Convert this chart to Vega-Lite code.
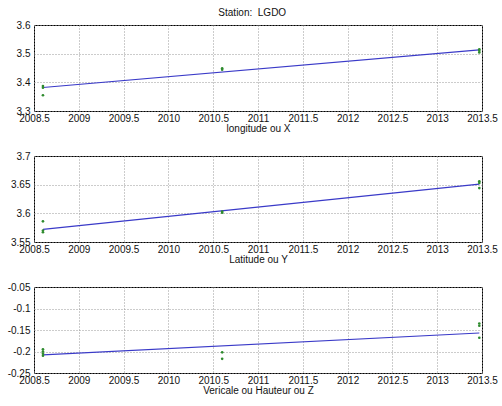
{
  "$schema": "https://vega.github.io/schema/vega-lite/v6.json",
  "padding": {"left": 6, "top": 7, "right": 12, "bottom": 2},
  "background": "white",
  "title": {"text": "Station:\u00a0 LGDO", "fontSize": 10, "fontWeight": "normal", "font": "Liberation Sans", "color": "#111", "anchor": "middle", "offset": 2},
  "config": {
    "font": "Liberation Sans",
    "view": {"stroke": "#000", "strokeWidth": 1},
    "axis": {
      "labelFont": "Liberation Sans", "labelFontSize": 10, "labelColor": "#111",
      "titleFont": "Liberation Sans", "titleFontSize": 10, "titleFontWeight": "normal", "titleColor": "#111",
      "domain": false, "ticks": false, "labelOverlap": false, "labelFlush": false,
      "gridColor": "#999", "gridDash": [1, 2], "gridWidth": 1, "gridOpacity": 1
    }
  },
  "datasets": {
    "pts": [
      {"panel": "X", "kind": "obs", "t": 2008.6, "v": 3.387},
      {"panel": "X", "kind": "obs", "t": 2008.6, "v": 3.381},
      {"panel": "X", "kind": "obs", "t": 2008.6, "v": 3.355},
      {"panel": "X", "kind": "obs", "t": 2010.6, "v": 3.449},
      {"panel": "X", "kind": "obs", "t": 2010.6, "v": 3.444},
      {"panel": "X", "kind": "obs", "t": 2013.47, "v": 3.515},
      {"panel": "X", "kind": "obs", "t": 2013.47, "v": 3.510},
      {"panel": "X", "kind": "obs", "t": 2013.47, "v": 3.504},
      {"panel": "Y", "kind": "obs", "t": 2008.6, "v": 3.586},
      {"panel": "Y", "kind": "obs", "t": 2008.6, "v": 3.570},
      {"panel": "Y", "kind": "obs", "t": 2008.6, "v": 3.567},
      {"panel": "Y", "kind": "obs", "t": 2010.6, "v": 3.603},
      {"panel": "Y", "kind": "obs", "t": 2010.6, "v": 3.601},
      {"panel": "Y", "kind": "obs", "t": 2013.47, "v": 3.656},
      {"panel": "Y", "kind": "obs", "t": 2013.47, "v": 3.653},
      {"panel": "Y", "kind": "obs", "t": 2013.47, "v": 3.644},
      {"panel": "Z", "kind": "obs", "t": 2008.6, "v": -0.195},
      {"panel": "Z", "kind": "obs", "t": 2008.6, "v": -0.200},
      {"panel": "Z", "kind": "obs", "t": 2008.6, "v": -0.205},
      {"panel": "Z", "kind": "obs", "t": 2008.6, "v": -0.210},
      {"panel": "Z", "kind": "obs", "t": 2010.6, "v": -0.202},
      {"panel": "Z", "kind": "obs", "t": 2010.6, "v": -0.217},
      {"panel": "Z", "kind": "obs", "t": 2013.47, "v": -0.135},
      {"panel": "Z", "kind": "obs", "t": 2013.47, "v": -0.140},
      {"panel": "Z", "kind": "obs", "t": 2013.47, "v": -0.168},
      {"panel": "X", "kind": "fit", "t": 2008.6, "v": 3.382},
      {"panel": "X", "kind": "fit", "t": 2013.47, "v": 3.513},
      {"panel": "Y", "kind": "fit", "t": 2008.6, "v": 3.572},
      {"panel": "Y", "kind": "fit", "t": 2013.47, "v": 3.651},
      {"panel": "Z", "kind": "fit", "t": 2008.6, "v": -0.208},
      {"panel": "Z", "kind": "fit", "t": 2013.47, "v": -0.157}
    ]
  },
  "data": {"name": "pts"},
  "spacing": 16,
  "vconcat": [
    {
      "width": 448, "height": 86,
      "transform": [{"filter": "datum.panel === 'X'"}],
      "encoding": {
        "x": {"field": "t", "type": "quantitative", "scale": {"domain": [2008.5, 2013.5], "nice": false, "zero": false},
              "axis": {"title": "longitude ou X", "values": [2008.5, 2009, 2009.5, 2010, 2010.5, 2011, 2011.5, 2012, 2012.5, 2013, 2013.5], "labelExpr": "'' + datum.value", "labelPadding": 2, "titlePadding": 0}},
        "y": {"field": "v", "type": "quantitative", "scale": {"domain": [3.3, 3.6], "nice": false, "zero": false},
              "axis": {"title": null, "values": [3.3, 3.4, 3.5, 3.6], "labelExpr": "'' + datum.value", "labelPadding": 4}}
      },
      "layer": [
        {"transform": [{"filter": "datum.kind === 'fit'"}], "mark": {"type": "line", "color": "#3a3ac8", "strokeWidth": 1.2}},
        {"transform": [{"filter": "datum.kind === 'obs'"}], "mark": {"type": "point", "shape": "circle", "filled": true, "color": "#2e8b2e", "size": 7, "opacity": 1}}
      ]
    },
    {
      "width": 448, "height": 86,
      "transform": [{"filter": "datum.panel === 'Y'"}],
      "encoding": {
        "x": {"field": "t", "type": "quantitative", "scale": {"domain": [2008.5, 2013.5], "nice": false, "zero": false},
              "axis": {"title": "Latitude ou Y", "values": [2008.5, 2009, 2009.5, 2010, 2010.5, 2011, 2011.5, 2012, 2012.5, 2013, 2013.5], "labelExpr": "'' + datum.value", "labelPadding": 2, "titlePadding": 0}},
        "y": {"field": "v", "type": "quantitative", "scale": {"domain": [3.55, 3.7], "nice": false, "zero": false},
              "axis": {"title": null, "values": [3.55, 3.6, 3.65, 3.7], "labelExpr": "'' + datum.value", "labelPadding": 4}}
      },
      "layer": [
        {"transform": [{"filter": "datum.kind === 'fit'"}], "mark": {"type": "line", "color": "#3a3ac8", "strokeWidth": 1.2}},
        {"transform": [{"filter": "datum.kind === 'obs'"}], "mark": {"type": "point", "shape": "circle", "filled": true, "color": "#2e8b2e", "size": 7, "opacity": 1}}
      ]
    },
    {
      "width": 448, "height": 86,
      "transform": [{"filter": "datum.panel === 'Z'"}],
      "encoding": {
        "x": {"field": "t", "type": "quantitative", "scale": {"domain": [2008.5, 2013.5], "nice": false, "zero": false},
              "axis": {"title": "Vericale ou Hauteur ou Z", "values": [2008.5, 2009, 2009.5, 2010, 2010.5, 2011, 2011.5, 2012, 2012.5, 2013, 2013.5], "labelExpr": "'' + datum.value", "labelPadding": 2, "titlePadding": 0}},
        "y": {"field": "v", "type": "quantitative", "scale": {"domain": [-0.25, -0.05], "nice": false, "zero": false},
              "axis": {"title": null, "values": [-0.25, -0.2, -0.15, -0.1, -0.05], "labelExpr": "'' + datum.value", "labelPadding": 4}}
      },
      "layer": [
        {"transform": [{"filter": "datum.kind === 'fit'"}], "mark": {"type": "line", "color": "#3a3ac8", "strokeWidth": 1.2}},
        {"transform": [{"filter": "datum.kind === 'obs'"}], "mark": {"type": "point", "shape": "circle", "filled": true, "color": "#2e8b2e", "size": 7, "opacity": 1}}
      ]
    }
  ]
}
